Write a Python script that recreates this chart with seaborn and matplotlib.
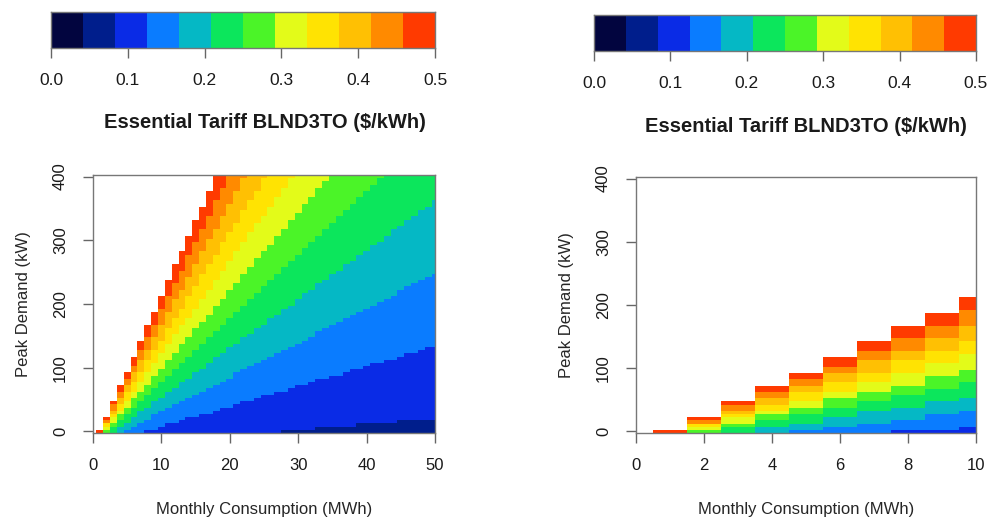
import numpy as np
import matplotlib
matplotlib.use('Agg')
import matplotlib.pyplot as plt
import seaborn as sns
from matplotlib.colors import ListedColormap

# colour scale of the tariff ($/kWh): 12 equal bins from 0.0 to 0.5
tariff_colors = ['#02053F', '#001E8C', '#0A2BE6', '#0A7CFF', '#05B8C5', '#0CE65C',
                 '#4BF428', '#E3FB19', '#FFE302', '#FFC003', '#FF8A00', '#FF3A00']
tariff_ticks = [0.0, 0.1, 0.2, 0.3, 0.4, 0.5]
tariff_max = 0.5

# BLND3TO components, estimated from where the colour bands change
energy_rate = 0.0675     # $/kWh
demand_rate = 18.3       # $/kW per month
fixed_charge = 430.0     # $ per month

# grids of the two panels
demand_kw = np.arange(0, 405, 5)
consumption_left = np.arange(0, 51)     # MWh
consumption_right = np.arange(0, 11)    # MWh
xticks_left = [0, 10, 20, 30, 40, 50]
xticks_right = [0, 2, 4, 6, 8, 10]
yticks = [0, 100, 200, 300, 400]

title = 'Essential Tariff BLND3TO ($/kWh)'
xlabel = 'Monthly Consumption (MWh)'
ylabel = 'Peak Demand (kW)'

sns.set_style('white')
plt.rcParams['font.family'] = ['Liberation Sans', 'DejaVu Sans']
plt.rcParams['font.size'] = 12
plt.rcParams['text.color'] = '#1a1a1a'
plt.rcParams['xtick.color'] = '#666666'
plt.rcParams['ytick.color'] = '#666666'
plt.rcParams['xtick.labelcolor'] = '#1a1a1a'
plt.rcParams['ytick.labelcolor'] = '#1a1a1a'

cmap = ListedColormap(tariff_colors)
cmap.set_bad((1, 1, 1, 0))
edge = '#777777'


def average_price(consumption_mwh):
    e, d = np.meshgrid(consumption_mwh * 1000.0, demand_kw)
    with np.errstate(divide='ignore', invalid='ignore'):
        price = energy_rate + (fixed_charge + demand_rate * d) / e
    price[~np.isfinite(price)] = np.nan
    price[price > tariff_max] = np.nan
    return price


def draw_panel(ax, consumption_mwh, xticks, xmax):
    price = average_price(consumption_mwh)
    sns.heatmap(price, ax=ax, cmap=cmap, vmin=0, vmax=tariff_max, cbar=False,
                mask=np.isnan(price), linewidths=0, rasterized=True)
    step = demand_kw[1] - demand_kw[0]
    ax.set_xlim(0.5, xmax + 0.5)
    ax.set_ylim(0, len(demand_kw))
    ax.set_xticks([x + 0.5 for x in xticks])
    ax.set_xticklabels([str(x) for x in xticks], rotation=0)
    ax.set_yticks([y / step + 0.5 for y in yticks])
    ax.set_yticklabels([str(y) for y in yticks], rotation=90, va='center')
    for s in ax.spines.values():
        s.set_visible(True)
        s.set_color(edge)
        s.set_linewidth(1.0)
    ax.tick_params(axis='both', length=7, width=1, pad=11, labelsize=12,
                   bottom=True, left=True)
    ax.set_xlabel(xlabel, fontsize=12, labelpad=21)
    ax.set_ylabel(ylabel, fontsize=12, labelpad=16)


def draw_colorbar(ax):
    n = len(tariff_colors)
    sns.heatmap(np.arange(n).reshape(1, n), ax=ax, cmap=cmap, vmin=-0.5, vmax=n - 0.5,
                cbar=False, linewidths=0)
    ax.set_xlim(0, n)
    ax.set_ylim(1, 0)
    ax.set_xticks([t / tariff_max * n for t in tariff_ticks])
    ax.set_xticklabels([f'{t:.1f}' for t in tariff_ticks], rotation=0)
    ax.set_yticks([])
    for s in ax.spines.values():
        s.set_visible(True)
        s.set_color(edge)
        s.set_linewidth(1.0)
    ax.tick_params(axis='x', length=7, width=1, pad=11, labelsize=12.5, bottom=True)


fig = plt.figure(figsize=(9.89, 5.17), dpi=100)
W, H = 989.0, 517.0

ax_left = fig.add_axes([93 / W, 1 - 433 / H, 342 / W, 258 / H])
ax_right = fig.add_axes([636 / W, 1 - 433 / H, 340 / W, 256 / H])
cb_left = fig.add_axes([51 / W, 1 - 48 / H, 384 / W, 36 / H])
cb_right = fig.add_axes([594 / W, 1 - 51 / H, 382 / W, 36 / H])

draw_panel(ax_left, consumption_left, xticks_left, 50)
draw_panel(ax_right, consumption_right, xticks_right, 10)
draw_colorbar(cb_left)
draw_colorbar(cb_right)

fig.text(265 / W, 1 - 123 / H, title, ha='center', va='center', fontsize=14.5, fontweight='bold')
fig.text(806 / W, 1 - 126 / H, title, ha='center', va='center', fontsize=14.5, fontweight='bold')

fig.savefig('out.png', dpi=100)
